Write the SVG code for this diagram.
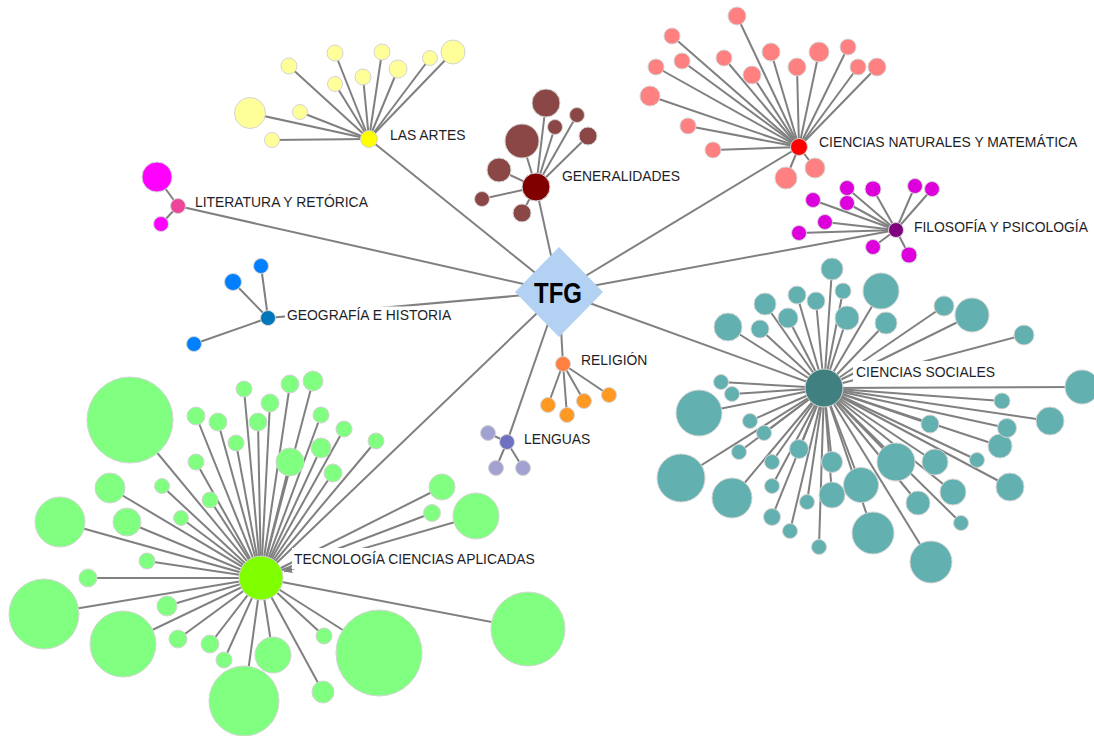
<svg xmlns="http://www.w3.org/2000/svg" width="1094" height="736" viewBox="0 0 1094 736">
<style>
.e{stroke:#808080;stroke-width:2;fill:none}
.n{stroke:#d4d4d4;stroke-width:1}
.lbl{font-family:"Liberation Sans",Arial,sans-serif;font-size:13.9px;fill:#1e1e28}
.bg{fill:#ffffff}
.ya{fill:#ffff99}.yh{fill:#ffff00}
.ga{fill:#8b4646}.gh{fill:#800000}
.ra{fill:#ff8080}.rh{fill:#ff0000}
.pa{fill:#dd00dd}.ph{fill:#800080}
.ma{fill:#ff00ff}.mh{fill:#ee4499}
.ba{fill:#0080ff}.bh{fill:#0077bb}
.oa{fill:#ff9922}.oh{fill:#ff8040}
.la{fill:#a2a2d2}.lh{fill:#7070c0}
.ta{fill:#62b0b0}.th{fill:#408080}
.va{fill:#80ff80}.vh{fill:#80ff00}
</style>
<defs>
<marker id="arr" viewBox="0 0 10 10" refX="10" refY="5" markerWidth="4" markerHeight="4" orient="auto" markerUnits="strokeWidth">
<path d="M0,0 L10,5 L0,10 z" fill="#808080"/>
</marker>
</defs>
<rect width="1094" height="736" fill="#ffffff"/>
<g id="connectors">
<line class="e" x1="559" y1="292" x2="369" y2="139"/>
<line class="e" x1="559" y1="292" x2="536" y2="187"/>
<line class="e" x1="559" y1="292" x2="799" y2="147"/>
<line class="e" x1="559" y1="292" x2="896" y2="230"/>
<line class="e" x1="559" y1="292" x2="178" y2="206"/>
<line class="e" x1="559" y1="292" x2="268" y2="318"/>
<line class="e" x1="559" y1="292" x2="824" y2="388"/>
<line class="e" x1="559" y1="292" x2="563" y2="364"/>
<line class="e" x1="559" y1="292" x2="507" y2="442"/>
<line class="e" x1="559" y1="292" x2="261" y2="578"/>
<g transform="translate(369 139)">
<line class="e" x2="-119" y2="-26"/><line class="e" x2="-97" y2="1"/><line class="e" x2="-69" y2="-27"/>
<line class="e" x2="-80" y2="-73"/><line class="e" x2="-34" y2="-86"/><line class="e" x2="-34" y2="-55"/>
<line class="e" x2="-6" y2="-62"/><line class="e" x2="13" y2="-87"/><line class="e" x2="29" y2="-70"/>
<line class="e" x2="61" y2="-81"/><line class="e" x2="84" y2="-87"/>
</g>
<g transform="translate(536 187)">
<line class="e" x2="10" y2="-84"/><line class="e" x2="19" y2="-60"/><line class="e" x2="41" y2="-72"/>
<line class="e" x2="52" y2="-51"/><line class="e" x2="-14" y2="-46"/><line class="e" x2="-37" y2="-17"/>
<line class="e" x2="-54" y2="12"/><line class="e" x2="-14" y2="26"/>
</g>
<g transform="translate(799 147)">
<line class="e" x2="-62" y2="-131"/><line class="e" x2="-127" y2="-111"/><line class="e" x2="-117" y2="-86"/>
<line class="e" x2="-143" y2="-80"/><line class="e" x2="-75" y2="-89"/><line class="e" x2="-28" y2="-95"/>
<line class="e" x2="-47" y2="-72"/><line class="e" x2="-2" y2="-80"/><line class="e" x2="20" y2="-95"/>
<line class="e" x2="49" y2="-100"/><line class="e" x2="59" y2="-80"/><line class="e" x2="78" y2="-80"/>
<line class="e" x2="-149" y2="-51"/><line class="e" x2="-111" y2="-21"/><line class="e" x2="-86" y2="3"/>
<line class="e" x2="-13" y2="31"/><line class="e" x2="16" y2="21"/>
</g>
<g transform="translate(896 230)">
<line class="e" x2="-83" y2="-30"/><line class="e" x2="-49" y2="-42"/><line class="e" x2="-49" y2="-27"/>
<line class="e" x2="-23" y2="-41"/><line class="e" x2="19" y2="-44"/><line class="e" x2="36" y2="-41"/>
<line class="e" x2="-71" y2="-8"/><line class="e" x2="-97" y2="3"/><line class="e" x2="-23" y2="17"/>
<line class="e" x2="13" y2="25"/>
</g>
<line class="e" x1="178" y1="206" x2="157" y2="177"/>
<line class="e" x1="178" y1="206" x2="161" y2="224"/>
<line class="e" x1="268" y1="318" x2="261" y2="266"/>
<line class="e" x1="268" y1="318" x2="233" y2="282"/>
<line class="e" x1="268" y1="318" x2="194" y2="344"/>
<line class="e" x1="563" y1="364" x2="548" y2="405"/>
<line class="e" x1="563" y1="364" x2="567" y2="415"/>
<line class="e" x1="563" y1="364" x2="584" y2="401"/>
<line class="e" x1="563" y1="364" x2="609" y2="395"/>
<line class="e" x1="507" y1="442" x2="488" y2="433"/>
<line class="e" x1="507" y1="442" x2="496" y2="468"/>
<line class="e" x1="507" y1="442" x2="523" y2="468"/>
<g transform="translate(824 388)">
<line class="e" x2="8" y2="-119"/><line class="e" x2="19" y2="-97"/><line class="e" x2="57" y2="-97"/>
<line class="e" x2="-27" y2="-93"/><line class="e" x2="-8" y2="-87"/><line class="e" x2="-59" y2="-84"/>
<line class="e" x2="-96" y2="-61"/><line class="e" x2="-64" y2="-59"/><line class="e" x2="-36" y2="-70"/>
<line class="e" x2="23" y2="-70"/><line class="e" x2="62" y2="-65"/><line class="e" x2="120" y2="-82"/>
<line class="e" x2="148" y2="-73"/><line class="e" x2="200" y2="-53"/><line class="e" x2="258" y2="-1"/>
<line class="e" x2="178" y2="13"/><line class="e" x2="-103" y2="-6"/><line class="e" x2="-92" y2="6"/>
<line class="e" x2="-125" y2="25"/><line class="e" x2="-74" y2="33"/><line class="e" x2="-60" y2="45"/>
<line class="e" x2="-85" y2="64"/><line class="e" x2="-143" y2="90"/><line class="e" x2="-92" y2="110"/>
<line class="e" x2="-52" y2="74"/><line class="e" x2="-52" y2="98"/><line class="e" x2="-25" y2="61"/>
<line class="e" x2="-52" y2="129"/><line class="e" x2="-34" y2="143"/><line class="e" x2="-17" y2="114"/>
<line class="e" x2="8" y2="74"/><line class="e" x2="8" y2="107"/><line class="e" x2="-5" y2="159"/>
<line class="e" x2="37" y2="97"/><line class="e" x2="49" y2="145"/><line class="e" x2="72" y2="74"/>
<line class="e" x2="94" y2="115"/><line class="e" x2="107" y2="174"/><line class="e" x2="111" y2="74"/>
<line class="e" x2="129" y2="104"/><line class="e" x2="137" y2="135"/><line class="e" x2="106" y2="36"/>
<line class="e" x2="153" y2="72"/><line class="e" x2="176" y2="58"/><line class="e" x2="183" y2="40"/>
<line class="e" x2="226" y2="33"/><line class="e" x2="186" y2="99"/>
</g>
<g transform="translate(261 578)">
<line class="e" x2="-131" y2="-158"/><line class="e" x2="-65" y2="-162"/><line class="e" x2="-43" y2="-156"/>
<line class="e" x2="-17" y2="-189"/><line class="e" x2="9" y2="-175"/><line class="e" x2="29" y2="-194"/>
<line class="e" x2="52" y2="-197"/><line class="e" x2="-3" y2="-156"/><line class="e" x2="-25" y2="-135"/>
<line class="e" x2="-65" y2="-116"/><line class="e" x2="29" y2="-116"/><line class="e" x2="60" y2="-163"/>
<line class="e" x2="83" y2="-149"/><line class="e" x2="115" y2="-137"/><line class="e" x2="60" y2="-130"/>
<line class="e" x2="72" y2="-105"/><line class="e" x2="-151" y2="-90"/><line class="e" x2="-99" y2="-92"/>
<line class="e" x2="-51" y2="-78"/><line class="e" x2="-80" y2="-60"/><line class="e" x2="-134" y2="-56"/>
<line class="e" x2="-201" y2="-56"/><line class="e" x2="-114" y2="-17"/><line class="e" x2="-173" y2="0"/>
<line class="e" x2="-217" y2="36"/><line class="e" x2="-94" y2="28"/><line class="e" x2="-138" y2="66"/>
<line class="e" x2="-83" y2="61"/><line class="e" x2="-51" y2="66"/><line class="e" x2="-37" y2="82"/>
<line class="e" x2="12" y2="77"/><line class="e" x2="-17" y2="123"/><line class="e" x2="63" y2="58"/>
<line class="e" x2="62" y2="114"/><line class="e" x2="118" y2="75"/><line class="e" x2="267" y2="51"/>
<line class="e" x2="181" y2="-91"/><line class="e" x2="171" y2="-65"/>
</g>
<line class="e" x1="476" y1="516" x2="284" y2="571.4" marker-end="url(#arr)"/>
</g>
<g id="node-tfg">
<polygon points="559,247 603,292 559,337 515,292" fill="#b3d1f2"/>
<text x="558" y="303" text-anchor="middle" font-family="'Liberation Sans',Arial,sans-serif" font-weight="bold" font-size="29" textLength="48" lengthAdjust="spacingAndGlyphs" fill="#000">TFG</text>
</g>
<g id="node-las-artes">
<circle class="n ya" cx="250" cy="113" r="15.5"/><circle class="n ya" cx="272" cy="140" r="7.5"/>
<circle class="n ya" cx="300" cy="112" r="7.5"/><circle class="n ya" cx="289" cy="66" r="8"/>
<circle class="n ya" cx="335" cy="53" r="8"/><circle class="n ya" cx="335" cy="84" r="7.5"/>
<circle class="n ya" cx="363" cy="77" r="8"/><circle class="n ya" cx="382" cy="52" r="8"/>
<circle class="n ya" cx="398" cy="69" r="9"/><circle class="n ya" cx="430" cy="58" r="7.5"/>
<circle class="n ya" cx="453" cy="52" r="12"/>
<circle class="n yh" cx="369" cy="139" r="8.5"/>
<text class="lbl" x="390" y="140">LAS ARTES</text>
</g>
<g id="node-generalidades">
<circle class="n ga" cx="546" cy="103" r="14"/><circle class="n ga" cx="555" cy="127" r="7.5"/>
<circle class="n ga" cx="577" cy="115" r="7.5"/><circle class="n ga" cx="588" cy="136" r="9"/>
<circle class="n ga" cx="522" cy="141" r="17"/><circle class="n ga" cx="499" cy="170" r="12"/>
<circle class="n ga" cx="482" cy="199" r="7.5"/><circle class="n ga" cx="522" cy="213" r="9"/>
<circle class="n gh" cx="536" cy="187" r="14"/>
<text class="lbl" x="562" y="181">GENERALIDADES</text>
</g>
<g id="node-ciencias-naturales">
<circle class="n ra" cx="737" cy="16" r="9"/><circle class="n ra" cx="672" cy="36" r="8"/>
<circle class="n ra" cx="682" cy="61" r="8"/><circle class="n ra" cx="656" cy="67" r="8"/>
<circle class="n ra" cx="724" cy="58" r="8"/><circle class="n ra" cx="771" cy="52" r="9"/>
<circle class="n ra" cx="752" cy="75" r="9"/><circle class="n ra" cx="797" cy="67" r="9"/>
<circle class="n ra" cx="819" cy="52" r="10"/><circle class="n ra" cx="848" cy="47" r="8"/>
<circle class="n ra" cx="858" cy="67" r="8"/><circle class="n ra" cx="877" cy="67" r="9"/>
<circle class="n ra" cx="650" cy="96" r="10"/><circle class="n ra" cx="688" cy="126" r="8"/>
<circle class="n ra" cx="713" cy="150" r="8"/><circle class="n ra" cx="786" cy="178" r="11"/>
<circle class="n ra" cx="815" cy="168" r="10"/>
<circle class="n rh" cx="799" cy="147" r="8.5"/>
<text class="lbl" x="819" y="147">CIENCIAS NATURALES Y MATEMÁTICA</text>
</g>
<g id="node-filosofia">
<circle class="n pa" cx="813" cy="200" r="7.5"/><circle class="n pa" cx="847" cy="188" r="7.5"/>
<circle class="n pa" cx="847" cy="203" r="7.5"/><circle class="n pa" cx="873" cy="189" r="8"/>
<circle class="n pa" cx="915" cy="186" r="7.5"/><circle class="n pa" cx="932" cy="189" r="7.5"/>
<circle class="n pa" cx="825" cy="222" r="7.5"/><circle class="n pa" cx="799" cy="233" r="7.5"/>
<circle class="n pa" cx="873" cy="247" r="7.5"/><circle class="n pa" cx="909" cy="255" r="8"/>
<circle class="n ph" cx="896" cy="230" r="7.5"/>
<text class="lbl" x="914" y="232">FILOSOFÍA Y PSICOLOGÍA</text>
</g>
<g id="node-literatura">
<circle class="n ma" cx="157" cy="177" r="15"/><circle class="n ma" cx="161" cy="224" r="7.5"/>
<circle class="n mh" cx="178" cy="206" r="7.5"/>
<text class="lbl" x="195" y="207">LITERATURA Y RETÓRICA</text>
</g>
<g id="node-geografia">
<circle class="n ba" cx="261" cy="266" r="7.5"/><circle class="n ba" cx="233" cy="282" r="8.5"/>
<circle class="n ba" cx="194" cy="344" r="7.5"/>
<circle class="n bh" cx="268" cy="318" r="7.5"/>
<rect class="bg" x="285" y="306.5" width="168" height="18"/>
<text class="lbl" x="287" y="320">GEOGRAFÍA E HISTORIA</text>
</g>
<g id="node-religion">
<circle class="n oa" cx="548" cy="405" r="7.5"/><circle class="n oa" cx="567" cy="415" r="7.5"/>
<circle class="n oa" cx="584" cy="401" r="7.5"/><circle class="n oa" cx="609" cy="395" r="7.5"/>
<circle class="n oh" cx="563" cy="364" r="7.5"/>
<text class="lbl" x="581" y="365">RELIGIÓN</text>
</g>
<g id="node-lenguas">
<circle class="n la" cx="488" cy="433" r="7.5"/><circle class="n la" cx="496" cy="468" r="7.5"/>
<circle class="n la" cx="523" cy="468" r="7.5"/>
<circle class="n lh" cx="507" cy="442" r="7.5"/>
<text class="lbl" x="524" y="444">LENGUAS</text>
</g>
<g id="node-ciencias-sociales">
<circle class="n ta" cx="832" cy="269" r="11"/><circle class="n ta" cx="843" cy="291" r="8"/>
<circle class="n ta" cx="881" cy="291" r="18"/><circle class="n ta" cx="797" cy="295" r="9"/>
<circle class="n ta" cx="816" cy="301" r="9"/><circle class="n ta" cx="765" cy="304" r="11"/>
<circle class="n ta" cx="728" cy="327" r="14"/><circle class="n ta" cx="760" cy="329" r="9"/>
<circle class="n ta" cx="788" cy="318" r="10"/><circle class="n ta" cx="847" cy="318" r="12"/>
<circle class="n ta" cx="886" cy="323" r="11"/><circle class="n ta" cx="944" cy="306" r="10"/>
<circle class="n ta" cx="972" cy="315" r="17"/><circle class="n ta" cx="1024" cy="335" r="10"/>
<circle class="n ta" cx="1082" cy="387" r="17"/><circle class="n ta" cx="1002" cy="401" r="8"/>
<circle class="n ta" cx="721" cy="382" r="7.5"/><circle class="n ta" cx="732" cy="394" r="7.5"/>
<circle class="n ta" cx="699" cy="413" r="23"/><circle class="n ta" cx="750" cy="421" r="7.5"/>
<circle class="n ta" cx="764" cy="433" r="7.5"/><circle class="n ta" cx="739" cy="452" r="7.5"/>
<circle class="n ta" cx="681" cy="478" r="24"/><circle class="n ta" cx="732" cy="498" r="20"/>
<circle class="n ta" cx="772" cy="462" r="7.5"/><circle class="n ta" cx="772" cy="486" r="7.5"/>
<circle class="n ta" cx="799" cy="449" r="9.5"/><circle class="n ta" cx="772" cy="517" r="8.5"/>
<circle class="n ta" cx="790" cy="531" r="7.5"/><circle class="n ta" cx="807" cy="502" r="7.5"/>
<circle class="n ta" cx="832" cy="462" r="10.5"/><circle class="n ta" cx="832" cy="495" r="13"/>
<circle class="n ta" cx="819" cy="547" r="7.5"/><circle class="n ta" cx="861" cy="485" r="17.5"/>
<circle class="n ta" cx="873" cy="533" r="21"/><circle class="n ta" cx="896" cy="462" r="19"/>
<circle class="n ta" cx="918" cy="503" r="12"/><circle class="n ta" cx="931" cy="562" r="21"/>
<circle class="n ta" cx="935" cy="462" r="13"/><circle class="n ta" cx="953" cy="492" r="13"/>
<circle class="n ta" cx="961" cy="523" r="7.5"/><circle class="n ta" cx="930" cy="424" r="9"/>
<circle class="n ta" cx="977" cy="460" r="7.5"/><circle class="n ta" cx="1000" cy="446" r="12"/>
<circle class="n ta" cx="1007" cy="428" r="9.5"/><circle class="n ta" cx="1050" cy="421" r="14"/>
<circle class="n ta" cx="1010" cy="487" r="14"/>
<circle class="n th" cx="824" cy="388" r="19"/>
<rect class="bg" x="853" y="361" width="145" height="21"/>
<text class="lbl" x="856" y="377">CIENCIAS SOCIALES</text>
</g>
<g id="node-tecnologia">
<circle class="n va" cx="130" cy="420" r="43"/><circle class="n va" cx="196" cy="416" r="9"/>
<circle class="n va" cx="218" cy="422" r="9"/><circle class="n va" cx="244" cy="389" r="8"/>
<circle class="n va" cx="270" cy="403" r="9"/><circle class="n va" cx="290" cy="384" r="9"/>
<circle class="n va" cx="313" cy="381" r="10"/><circle class="n va" cx="258" cy="422" r="9"/>
<circle class="n va" cx="236" cy="443" r="8"/><circle class="n va" cx="196" cy="462" r="8"/>
<circle class="n va" cx="290" cy="462" r="14"/><circle class="n va" cx="321" cy="415" r="8"/>
<circle class="n va" cx="344" cy="429" r="8"/><circle class="n va" cx="376" cy="441" r="8"/>
<circle class="n va" cx="321" cy="448" r="10"/><circle class="n va" cx="333" cy="473" r="9"/>
<circle class="n va" cx="110" cy="488" r="15"/><circle class="n va" cx="162" cy="486" r="7.5"/>
<circle class="n va" cx="210" cy="500" r="8"/><circle class="n va" cx="181" cy="518" r="7.5"/>
<circle class="n va" cx="127" cy="522" r="14"/><circle class="n va" cx="60" cy="522" r="25"/>
<circle class="n va" cx="147" cy="561" r="8"/><circle class="n va" cx="88" cy="578" r="9"/>
<circle class="n va" cx="44" cy="614" r="35"/><circle class="n va" cx="167" cy="606" r="10"/>
<circle class="n va" cx="123" cy="644" r="33"/><circle class="n va" cx="178" cy="639" r="9"/>
<circle class="n va" cx="210" cy="644" r="9"/><circle class="n va" cx="224" cy="660" r="8"/>
<circle class="n va" cx="273" cy="655" r="18"/><circle class="n va" cx="244" cy="701" r="35"/>
<circle class="n va" cx="324" cy="636" r="8"/><circle class="n va" cx="323" cy="692" r="11"/>
<circle class="n va" cx="379" cy="653" r="43"/><circle class="n va" cx="528" cy="629" r="37"/>
<circle class="n va" cx="442" cy="487" r="13"/><circle class="n va" cx="432" cy="513" r="8.5"/>
<circle class="n va" cx="476" cy="516" r="23"/>
<circle class="n vh" cx="261" cy="578" r="22"/>
<rect class="bg" x="292" y="548" width="246" height="21"/>
<text class="lbl" x="294" y="564">TECNOLOGÍA CIENCIAS APLICADAS</text>
</g>
</svg>
